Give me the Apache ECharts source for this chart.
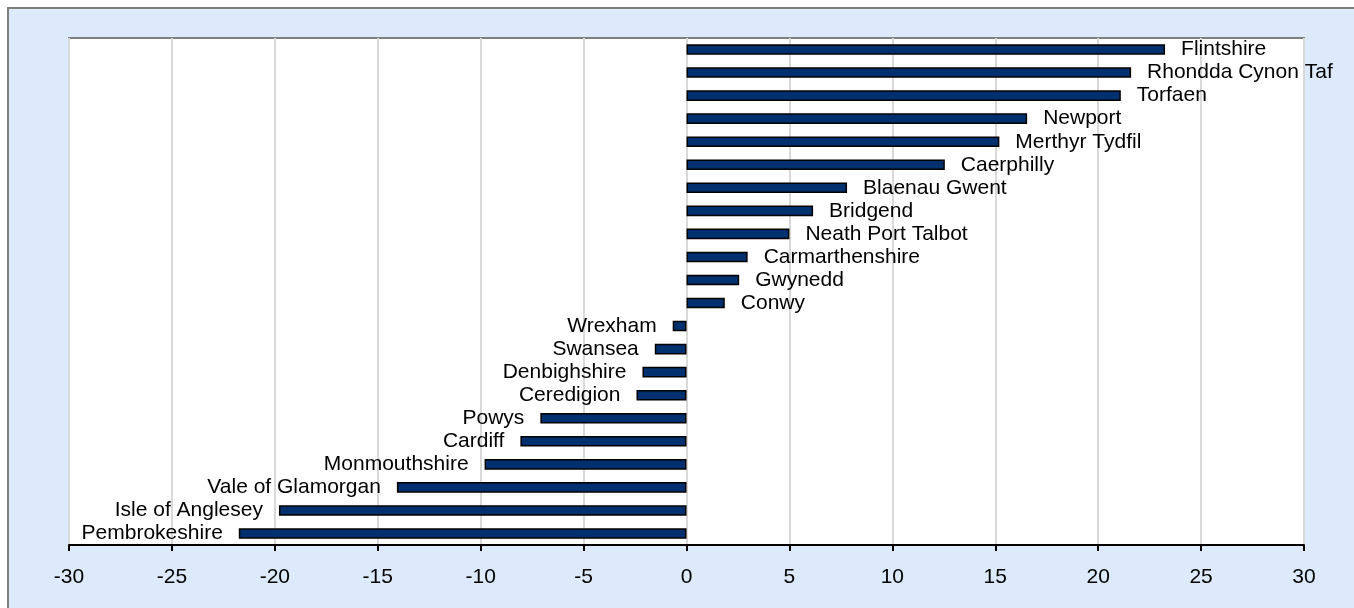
<!DOCTYPE html>
<html>
<head>
<meta charset="utf-8">
<script src="https://cdn.jsdelivr.net/npm/echarts@6/dist/echarts.min.js"></script>
<style>
    html, body { margin: 0; padding: 0; background: #ffffff; }
    #barChart { width: 1354px; height: 608px; }
</style>
</head>
<body>
<div id="barChart"></div>
<script>
// categories top to bottom, as they appear in the chart
var areas = ['Flintshire', 'Rhondda Cynon Taf', 'Torfaen', 'Newport', 'Merthyr Tydfil',
    'Caerphilly', 'Blaenau Gwent', 'Bridgend', 'Neath Port Talbot', 'Carmarthenshire',
    'Gwynedd', 'Conwy', 'Wrexham', 'Swansea', 'Denbighshire', 'Ceredigion', 'Powys',
    'Cardiff', 'Monmouthshire', 'Vale of Glamorgan', 'Isle of Anglesey', 'Pembrokeshire'];
var changes = [23.25, 21.6, 21.1, 16.55, 15.2, 12.55, 7.8, 6.15, 5.0, 2.97,
    2.56, 1.86, -0.67, -1.54, -2.14, -2.43, -7.1, -8.07, -9.81, -14.07, -19.8, -21.75];
var xTicks = [-30, -25, -20, -15, -10, -5, 0, 5, 10, 15, 20, 25, 30];

var chart = echarts.init(document.getElementById('barChart'));

var barData = changes.map(function (v, i) {
    return {
        value: v,
        name: areas[i],
        label: { position: v >= 0 ? 'right' : 'left' }
    };
});

var option = {
    animation: false,
    graphic: [{
        type: 'rect',
        z: -100,
        silent: true,
        shape: { x: 8, y: 8, width: 1400, height: 700 },
        style: { fill: '#DCEAFC', stroke: '#7F7F7F', lineWidth: 2 }
    }],
    grid: {
        left: 69, right: 50, top: 38, bottom: 63,
        show: true,
        backgroundColor: '#ffffff',
        borderColor: '#808080',
        borderWidth: 2
    },
    xAxis: {
        type: 'value',
        min: xTicks[0],
        max: xTicks[xTicks.length - 1],
        interval: 5,
        axisLine: { show: true, onZero: false, lineStyle: { color: '#000000', width: 2 } },
        axisTick: { show: true, length: 6, lineStyle: { color: '#000000', width: 2 } },
        axisLabel: {
            margin: 22,
            color: '#000000',
            fontSize: 21,
            fontFamily: 'Liberation Sans, Arial, sans-serif'
        },
        splitLine: { show: true, lineStyle: { color: '#D9D9D9', width: 2 } }
    },
    yAxis: {
        type: 'category',
        data: areas,
        inverse: true,
        axisLine: { show: false },
        axisTick: { show: false },
        axisLabel: { show: false },
        splitLine: { show: false }
    },
    series: [{
        type: 'bar',
        data: barData,
        barWidth: '46%',
        itemStyle: { color: '#00306E', borderColor: '#000000', borderWidth: 1.5 },
        label: {
            show: true,
            distance: 16,
            formatter: '{b}',
            color: '#000000',
            fontSize: 21,
            fontFamily: 'Liberation Sans, Arial, sans-serif'
        }
    }]
};

chart.setOption(option);

window.onresize = function () {
    chart.resize();
};
</script>
</body>
</html>
